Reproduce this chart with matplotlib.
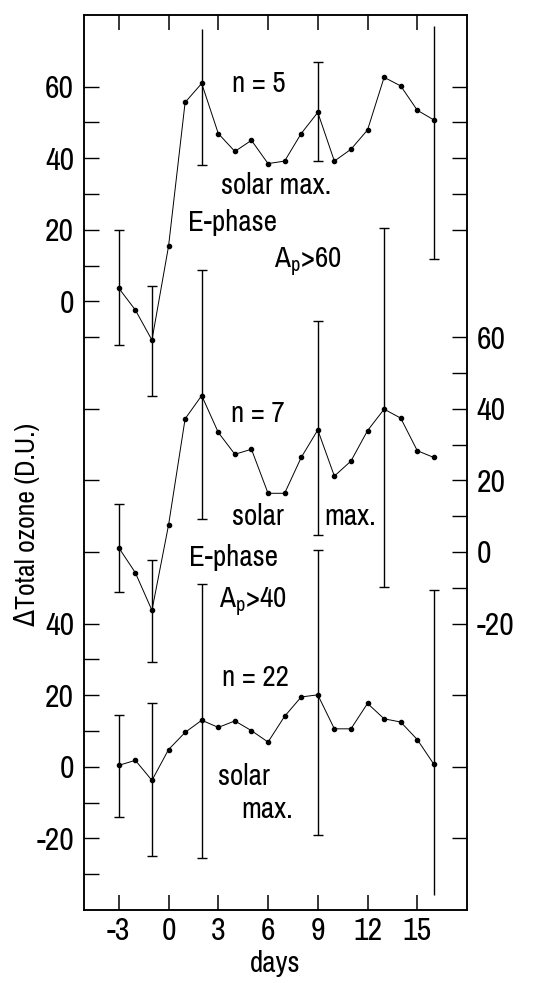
import matplotlib
matplotlib.use("Agg")
import matplotlib.pyplot as plt
import numpy as np

plt.rcParams['font.family'] = ['Archivo Narrow', 'DejaVu Sans']
plt.rcParams['font.stretch'] = 'condensed'

# days after event
days = list(range(-3, 17))

# three curves, each in its own units (offset on the shared axis)
top_vals = [3.7, -2.4, -10.8, 15.4, 55.6, 60.9, 46.9, 41.9, 45.0, 38.5,
            39.2, 46.9, 52.8, 39.2, 42.5, 47.9, 62.6, 60.2, 53.4, 50.7]
mid_vals = [1.2, -5.8, -16.3, 7.5, 37.2, 43.7, 33.4, 27.3, 28.7, 16.4,
            16.4, 26.4, 34.1, 21.2, 25.4, 33.9, 39.9, 37.4, 28.3, 26.4]
bot_vals = [0.4, 1.8, -3.8, 4.8, 9.6, 13.0, 11.0, 12.8, 10.1, 6.9,
            14.1, 19.5, 20.1, 10.6, 10.6, 17.7, 13.4, 12.5, 7.6, 0.7]

top_offset = 130
mid_offset = 60

# error bars: day, low, high, cap at low / high end
top_err_days = [-3, -1, 2, 9, 16]
top_err_lo = [-12.2, -26.4, 38.0, 39.2, 11.9]
top_err_hi = [19.9, 4.2, 76.1, 67.0, 76.8]
top_cap_lo = [True, True, True, True, True]
top_cap_hi = [True, True, False, True, False]

mid_err_days = [-3, -1, 2, 9, 13]
mid_err_lo = [-11.3, -30.7, 9.2, 4.7, -9.8]
mid_err_hi = [13.4, -2.1, 78.7, 64.6, 90.4]
mid_cap_lo = [True, True, True, True, True]
mid_cap_hi = [True, True, True, True, True]

bot_err_days = [-3, -1, 2, 9, 16]
bot_err_lo = [-13.9, -25.0, -25.6, -19.1, -35.9]
bot_err_hi = [14.5, 17.7, 51.0, 60.5, 49.4]
bot_cap_lo = [True, True, True, True, False]
bot_cap_hi = [True, True, True, True, True]

xticks = [-3, 0, 3, 6, 9, 12, 15]
xticklabels = ['-3', '0', '3', '6', '9', '12', '15']

left_ticks = [-30, -20, -10, 0, 10, 20, 30, 40, 60, 80, 100, 120,
              130, 140, 150, 160, 170, 180, 190]
left_labels = {-20: '-20', 0: '0', 20: '20', 40: '40',
               130: '0', 150: '20', 170: '40', 190: '60'}
right_ticks = [-20, 0, 20, 40, 50, 60, 70, 80, 90, 100, 110, 120,
               150, 160, 170, 180, 190]
right_labels = {40: '-20', 60: '0', 80: '20', 100: '40', 120: '60'}

fig = plt.figure(figsize=(5.56, 9.83), dpi=100)
ax = fig.add_axes([0.151, 0.0743, 0.689, 0.9104])

curves = [
    (top_vals, top_offset, top_err_days, top_err_lo, top_err_hi, top_cap_lo, top_cap_hi),
    (mid_vals, mid_offset, mid_err_days, mid_err_lo, mid_err_hi, mid_cap_lo, mid_cap_hi),
    (bot_vals, 0, bot_err_days, bot_err_lo, bot_err_hi, bot_cap_lo, bot_cap_hi),
]

for vals, off, ed, lo, hi, clo, chi in curves:
    y = np.array(vals) + off
    ax.plot(days, y, color='black', lw=0.7, marker='o', ms=3.0)
    lo = np.array(lo) + off
    hi = np.array(hi) + off
    ax.vlines(ed, lo, hi, color='black', lw=1.0)
    for d, l, h, cl, ch in zip(ed, lo, hi, clo, chi):
        if cl:
            ax.plot([d], [l], marker='_', ms=7, mew=1.0, color='black')
        if ch:
            ax.plot([d], [h], marker='_', ms=7, mew=1.0, color='black')

ax.set_xlim(-5.1, 18)
ax.set_ylim(-40, 210)

ax.set_xticks(xticks)
ax.set_xticklabels(xticklabels, fontsize=23, fontweight='semibold')
ax.set_yticks(left_ticks)
ax.set_yticklabels([left_labels.get(t, '') for t in left_ticks], fontsize=23,
                   fontweight='semibold')
ax.tick_params(axis='x', direction='in', length=11, width=1.1, top=True, pad=5)
ax.tick_params(axis='y', direction='in', length=11, width=1.0, pad=7)

ax2 = ax.twinx()
ax2.set_ylim(ax.get_ylim())
ax2.set_yticks(right_ticks)
ax2.set_yticklabels([right_labels.get(t, '') for t in right_ticks], fontsize=23,
                    fontweight='semibold')
ax2.tick_params(axis='y', direction='in', length=11, width=1.0, pad=7)

for a in (ax, ax2):
    for s in a.spines.values():
        s.set_linewidth(1.1)

ax.set_xlabel('days', fontsize=21, labelpad=4)
fig.text(0.049, 0.466, '\u0394Total ozone (D.U.)', rotation=90, fontsize=20,
         ha='center', va='center')

# annotations (axes fraction)
def fx(px):
    return (px - 84) / 382.0

def fy(py):
    return (910 - py) / 895.0

notes = [
    ('n = 5', 258, 83),
    ('solar max.', 276, 185),
    ('E-phase', 232, 222),
    ('A$_\\mathregular{p}$>60', 307, 262),
    ('n = 7', 257, 413),
    ('solar', 257, 517),
    ('max.', 349, 517),
    ('E-phase', 233, 558),
    ('A$_\\mathregular{p}$>40', 252, 602),
    ('n = 22', 255, 678),
    ('solar', 244, 777),
    ('max.', 267, 810),
]
for txt, px, py in notes:
    ax.text(fx(px), fy(py), txt, transform=ax.transAxes, fontsize=21,
            ha='center', va='center')

fig.savefig('out.png', dpi=100)
